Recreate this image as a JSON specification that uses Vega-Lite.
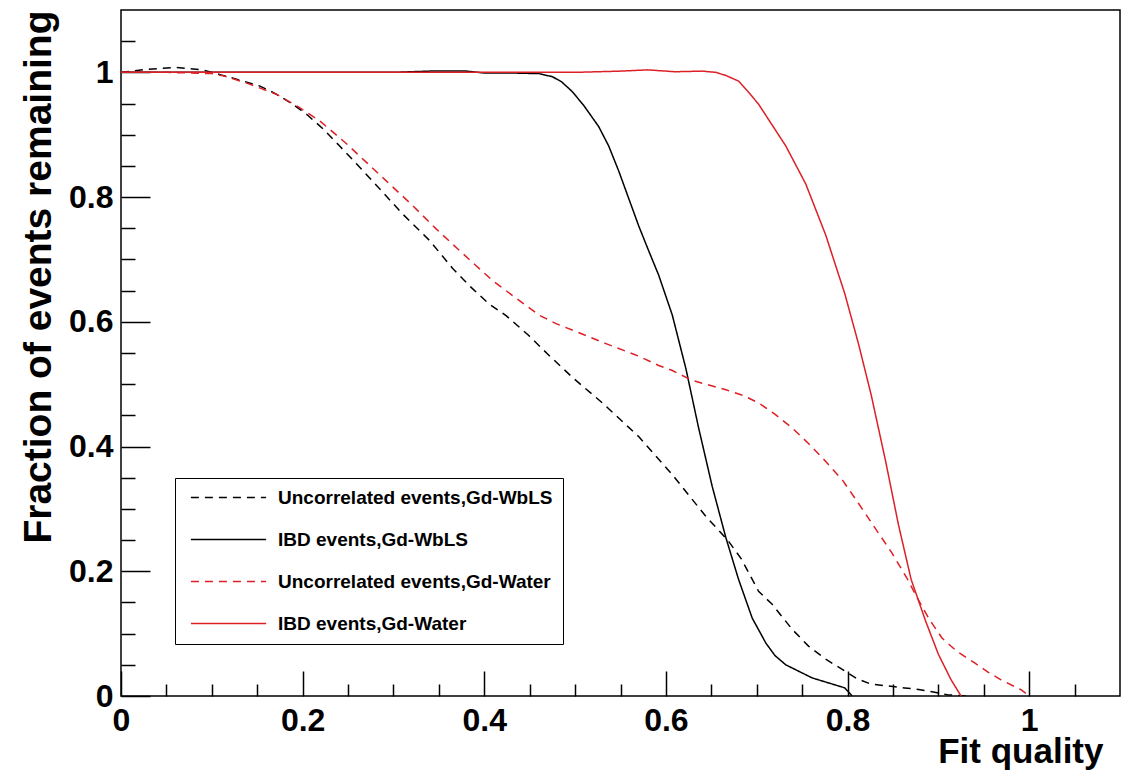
{
  "$schema": "https://vega.github.io/schema/vega-lite/v6.json",
  "autosize": {"type": "none"},
  "width": 999,
  "height": 686,
  "padding": {"left": 121, "top": 10, "right": 8, "bottom": 75},
  "background": "white",
  "config": {
    "view": {"stroke": "black", "strokeWidth": 1.5},
    "font": "Liberation Sans"
  },
  "data": {"values": [
    {"series": "Uncorrelated events,Gd-WbLS", "x": 0, "y": 1.0},
    {"series": "Uncorrelated events,Gd-WbLS", "x": 0.03, "y": 1.005},
    {"series": "Uncorrelated events,Gd-WbLS", "x": 0.06, "y": 1.008},
    {"series": "Uncorrelated events,Gd-WbLS", "x": 0.09, "y": 1.004},
    {"series": "Uncorrelated events,Gd-WbLS", "x": 0.11, "y": 0.996},
    {"series": "Uncorrelated events,Gd-WbLS", "x": 0.13, "y": 0.988},
    {"series": "Uncorrelated events,Gd-WbLS", "x": 0.153, "y": 0.978},
    {"series": "Uncorrelated events,Gd-WbLS", "x": 0.17, "y": 0.966},
    {"series": "Uncorrelated events,Gd-WbLS", "x": 0.188, "y": 0.95},
    {"series": "Uncorrelated events,Gd-WbLS", "x": 0.205, "y": 0.932},
    {"series": "Uncorrelated events,Gd-WbLS", "x": 0.222, "y": 0.91},
    {"series": "Uncorrelated events,Gd-WbLS", "x": 0.24, "y": 0.883},
    {"series": "Uncorrelated events,Gd-WbLS", "x": 0.259, "y": 0.854},
    {"series": "Uncorrelated events,Gd-WbLS", "x": 0.285, "y": 0.813},
    {"series": "Uncorrelated events,Gd-WbLS", "x": 0.31, "y": 0.773},
    {"series": "Uncorrelated events,Gd-WbLS", "x": 0.34, "y": 0.73},
    {"series": "Uncorrelated events,Gd-WbLS", "x": 0.365, "y": 0.686},
    {"series": "Uncorrelated events,Gd-WbLS", "x": 0.385, "y": 0.656},
    {"series": "Uncorrelated events,Gd-WbLS", "x": 0.405, "y": 0.629},
    {"series": "Uncorrelated events,Gd-WbLS", "x": 0.424, "y": 0.61},
    {"series": "Uncorrelated events,Gd-WbLS", "x": 0.449, "y": 0.578},
    {"series": "Uncorrelated events,Gd-WbLS", "x": 0.47, "y": 0.548},
    {"series": "Uncorrelated events,Gd-WbLS", "x": 0.497, "y": 0.511},
    {"series": "Uncorrelated events,Gd-WbLS", "x": 0.53, "y": 0.47},
    {"series": "Uncorrelated events,Gd-WbLS", "x": 0.57, "y": 0.416},
    {"series": "Uncorrelated events,Gd-WbLS", "x": 0.607, "y": 0.355},
    {"series": "Uncorrelated events,Gd-WbLS", "x": 0.644, "y": 0.288},
    {"series": "Uncorrelated events,Gd-WbLS", "x": 0.668, "y": 0.25},
    {"series": "Uncorrelated events,Gd-WbLS", "x": 0.683, "y": 0.22},
    {"series": "Uncorrelated events,Gd-WbLS", "x": 0.702, "y": 0.168},
    {"series": "Uncorrelated events,Gd-WbLS", "x": 0.717, "y": 0.147},
    {"series": "Uncorrelated events,Gd-WbLS", "x": 0.739, "y": 0.107},
    {"series": "Uncorrelated events,Gd-WbLS", "x": 0.757, "y": 0.08},
    {"series": "Uncorrelated events,Gd-WbLS", "x": 0.776, "y": 0.059},
    {"series": "Uncorrelated events,Gd-WbLS", "x": 0.797, "y": 0.04},
    {"series": "Uncorrelated events,Gd-WbLS", "x": 0.81, "y": 0.028},
    {"series": "Uncorrelated events,Gd-WbLS", "x": 0.826, "y": 0.019},
    {"series": "Uncorrelated events,Gd-WbLS", "x": 0.845, "y": 0.016},
    {"series": "Uncorrelated events,Gd-WbLS", "x": 0.863, "y": 0.013},
    {"series": "Uncorrelated events,Gd-WbLS", "x": 0.88, "y": 0.01},
    {"series": "Uncorrelated events,Gd-WbLS", "x": 0.896, "y": 0.006},
    {"series": "Uncorrelated events,Gd-WbLS", "x": 0.91, "y": 0.002},
    {"series": "Uncorrelated events,Gd-WbLS", "x": 0.93, "y": 0.0},

    {"series": "IBD events,Gd-WbLS", "x": 0, "y": 1.0},
    {"series": "IBD events,Gd-WbLS", "x": 0.1, "y": 1.0},
    {"series": "IBD events,Gd-WbLS", "x": 0.2, "y": 1.0},
    {"series": "IBD events,Gd-WbLS", "x": 0.3, "y": 1.0},
    {"series": "IBD events,Gd-WbLS", "x": 0.34, "y": 1.002},
    {"series": "IBD events,Gd-WbLS", "x": 0.38, "y": 1.002},
    {"series": "IBD events,Gd-WbLS", "x": 0.4, "y": 0.999},
    {"series": "IBD events,Gd-WbLS", "x": 0.43, "y": 0.999},
    {"series": "IBD events,Gd-WbLS", "x": 0.46, "y": 0.998},
    {"series": "IBD events,Gd-WbLS", "x": 0.475, "y": 0.993},
    {"series": "IBD events,Gd-WbLS", "x": 0.485, "y": 0.985},
    {"series": "IBD events,Gd-WbLS", "x": 0.497, "y": 0.969},
    {"series": "IBD events,Gd-WbLS", "x": 0.51, "y": 0.946},
    {"series": "IBD events,Gd-WbLS", "x": 0.526, "y": 0.913},
    {"series": "IBD events,Gd-WbLS", "x": 0.537, "y": 0.882},
    {"series": "IBD events,Gd-WbLS", "x": 0.548, "y": 0.842},
    {"series": "IBD events,Gd-WbLS", "x": 0.559, "y": 0.798},
    {"series": "IBD events,Gd-WbLS", "x": 0.57, "y": 0.754},
    {"series": "IBD events,Gd-WbLS", "x": 0.581, "y": 0.714},
    {"series": "IBD events,Gd-WbLS", "x": 0.592, "y": 0.675},
    {"series": "IBD events,Gd-WbLS", "x": 0.607, "y": 0.611},
    {"series": "IBD events,Gd-WbLS", "x": 0.622, "y": 0.525},
    {"series": "IBD events,Gd-WbLS", "x": 0.636, "y": 0.43},
    {"series": "IBD events,Gd-WbLS", "x": 0.651, "y": 0.336},
    {"series": "IBD events,Gd-WbLS", "x": 0.666, "y": 0.254},
    {"series": "IBD events,Gd-WbLS", "x": 0.68, "y": 0.187},
    {"series": "IBD events,Gd-WbLS", "x": 0.695, "y": 0.125},
    {"series": "IBD events,Gd-WbLS", "x": 0.71, "y": 0.085},
    {"series": "IBD events,Gd-WbLS", "x": 0.72, "y": 0.065},
    {"series": "IBD events,Gd-WbLS", "x": 0.732, "y": 0.05},
    {"series": "IBD events,Gd-WbLS", "x": 0.761, "y": 0.029},
    {"series": "IBD events,Gd-WbLS", "x": 0.797, "y": 0.013},
    {"series": "IBD events,Gd-WbLS", "x": 0.805, "y": 0.0},

    {"series": "Uncorrelated events,Gd-Water", "x": 0, "y": 1.0},
    {"series": "Uncorrelated events,Gd-Water", "x": 0.05, "y": 1.0},
    {"series": "Uncorrelated events,Gd-Water", "x": 0.1, "y": 0.998},
    {"series": "Uncorrelated events,Gd-Water", "x": 0.114, "y": 0.994},
    {"series": "Uncorrelated events,Gd-Water", "x": 0.14, "y": 0.982},
    {"series": "Uncorrelated events,Gd-Water", "x": 0.171, "y": 0.965},
    {"series": "Uncorrelated events,Gd-Water", "x": 0.195, "y": 0.945},
    {"series": "Uncorrelated events,Gd-Water", "x": 0.219, "y": 0.922},
    {"series": "Uncorrelated events,Gd-Water", "x": 0.248, "y": 0.886},
    {"series": "Uncorrelated events,Gd-Water", "x": 0.27, "y": 0.856},
    {"series": "Uncorrelated events,Gd-Water", "x": 0.292, "y": 0.826},
    {"series": "Uncorrelated events,Gd-Water", "x": 0.32, "y": 0.788},
    {"series": "Uncorrelated events,Gd-Water", "x": 0.347, "y": 0.749},
    {"series": "Uncorrelated events,Gd-Water", "x": 0.37, "y": 0.718},
    {"series": "Uncorrelated events,Gd-Water", "x": 0.391, "y": 0.69},
    {"series": "Uncorrelated events,Gd-Water", "x": 0.41, "y": 0.665},
    {"series": "Uncorrelated events,Gd-Water", "x": 0.435, "y": 0.638},
    {"series": "Uncorrelated events,Gd-Water", "x": 0.46, "y": 0.611},
    {"series": "Uncorrelated events,Gd-Water", "x": 0.479, "y": 0.597},
    {"series": "Uncorrelated events,Gd-Water", "x": 0.5, "y": 0.585},
    {"series": "Uncorrelated events,Gd-Water", "x": 0.534, "y": 0.565},
    {"series": "Uncorrelated events,Gd-Water", "x": 0.57, "y": 0.545},
    {"series": "Uncorrelated events,Gd-Water", "x": 0.592, "y": 0.53},
    {"series": "Uncorrelated events,Gd-Water", "x": 0.607, "y": 0.522},
    {"series": "Uncorrelated events,Gd-Water", "x": 0.629, "y": 0.506},
    {"series": "Uncorrelated events,Gd-Water", "x": 0.666, "y": 0.491},
    {"series": "Uncorrelated events,Gd-Water", "x": 0.685, "y": 0.482},
    {"series": "Uncorrelated events,Gd-Water", "x": 0.702, "y": 0.47},
    {"series": "Uncorrelated events,Gd-Water", "x": 0.72, "y": 0.452},
    {"series": "Uncorrelated events,Gd-Water", "x": 0.739, "y": 0.43},
    {"series": "Uncorrelated events,Gd-Water", "x": 0.757, "y": 0.405},
    {"series": "Uncorrelated events,Gd-Water", "x": 0.776, "y": 0.376},
    {"series": "Uncorrelated events,Gd-Water", "x": 0.795, "y": 0.345},
    {"series": "Uncorrelated events,Gd-Water", "x": 0.812, "y": 0.309},
    {"series": "Uncorrelated events,Gd-Water", "x": 0.83, "y": 0.27},
    {"series": "Uncorrelated events,Gd-Water", "x": 0.849, "y": 0.229},
    {"series": "Uncorrelated events,Gd-Water", "x": 0.865, "y": 0.19},
    {"series": "Uncorrelated events,Gd-Water", "x": 0.878, "y": 0.154},
    {"series": "Uncorrelated events,Gd-Water", "x": 0.89, "y": 0.123},
    {"series": "Uncorrelated events,Gd-Water", "x": 0.904, "y": 0.093},
    {"series": "Uncorrelated events,Gd-Water", "x": 0.92, "y": 0.072},
    {"series": "Uncorrelated events,Gd-Water", "x": 0.94, "y": 0.053},
    {"series": "Uncorrelated events,Gd-Water", "x": 0.955, "y": 0.038},
    {"series": "Uncorrelated events,Gd-Water", "x": 0.969, "y": 0.026},
    {"series": "Uncorrelated events,Gd-Water", "x": 0.991, "y": 0.01},
    {"series": "Uncorrelated events,Gd-Water", "x": 1.0, "y": 0.0},

    {"series": "IBD events,Gd-Water", "x": 0, "y": 1.0},
    {"series": "IBD events,Gd-Water", "x": 0.2, "y": 1.0},
    {"series": "IBD events,Gd-Water", "x": 0.4, "y": 1.0},
    {"series": "IBD events,Gd-Water", "x": 0.5, "y": 1.0},
    {"series": "IBD events,Gd-Water", "x": 0.55, "y": 1.002},
    {"series": "IBD events,Gd-Water", "x": 0.58, "y": 1.004},
    {"series": "IBD events,Gd-Water", "x": 0.61, "y": 1.001},
    {"series": "IBD events,Gd-Water", "x": 0.64, "y": 1.002},
    {"series": "IBD events,Gd-Water", "x": 0.655, "y": 1.0},
    {"series": "IBD events,Gd-Water", "x": 0.666, "y": 0.995},
    {"series": "IBD events,Gd-Water", "x": 0.68, "y": 0.986},
    {"series": "IBD events,Gd-Water", "x": 0.69, "y": 0.97},
    {"series": "IBD events,Gd-Water", "x": 0.702, "y": 0.949},
    {"series": "IBD events,Gd-Water", "x": 0.715, "y": 0.92},
    {"series": "IBD events,Gd-Water", "x": 0.732, "y": 0.882},
    {"series": "IBD events,Gd-Water", "x": 0.754, "y": 0.821},
    {"series": "IBD events,Gd-Water", "x": 0.776, "y": 0.739},
    {"series": "IBD events,Gd-Water", "x": 0.797, "y": 0.645},
    {"series": "IBD events,Gd-Water", "x": 0.812, "y": 0.565},
    {"series": "IBD events,Gd-Water", "x": 0.826, "y": 0.483},
    {"series": "IBD events,Gd-Water", "x": 0.842, "y": 0.376},
    {"series": "IBD events,Gd-Water", "x": 0.856, "y": 0.275},
    {"series": "IBD events,Gd-Water", "x": 0.87, "y": 0.187},
    {"series": "IBD events,Gd-Water", "x": 0.886, "y": 0.12},
    {"series": "IBD events,Gd-Water", "x": 0.9, "y": 0.067},
    {"series": "IBD events,Gd-Water", "x": 0.914, "y": 0.026},
    {"series": "IBD events,Gd-Water", "x": 0.925, "y": 0.0}
  ]},
  "mark": {"type": "line", "strokeWidth": 1.5, "clip": true},
  "encoding": {
    "x": {
      "field": "x", "type": "quantitative",
      "scale": {"domain": [0, 1.1], "nice": false, "zero": false},
      "axis": {
        "title": "Fit quality",
        "titleFont": "Liberation Sans",
        "titleFontSize": 35,
        "titleFontWeight": "bold",
        "titleColor": "black",
        "titleAlign": "right",
        "titleBaseline": "alphabetic",
        "titleX": 982,
        "titleY": 66,
        "values": [0, 0.05, 0.1, 0.15, 0.2, 0.25, 0.3, 0.35, 0.4, 0.45, 0.5, 0.55, 0.6, 0.65, 0.7, 0.75, 0.8, 0.85, 0.9, 0.95, 1.0, 1.05],
        "format": "~g",
        "labelExpr": "abs(datum.value*5 - round(datum.value*5)) < 0.000001 ? datum.label : ''",
        "labelFont": "Liberation Sans",
        "labelFontSize": 32,
        "labelFontWeight": "bold",
        "labelColor": "black",
        "labelPadding": 34,
        "labelFlush": false,
        "labelOverlap": false,
        "grid": false,
        "domain": false,
        "tickColor": "black",
        "tickWidth": 1.5,
        "tickSize": {"condition": {"test": "abs(datum.value*5 - round(datum.value*5)) < 0.000001", "value": -25}, "value": -12}
      }
    },
    "y": {
      "field": "y", "type": "quantitative",
      "scale": {"domain": [0, 1.1], "nice": false, "zero": false},
      "axis": {
        "title": "Fraction of events remaining",
        "titleAnchor": "end",
        "titleFont": "Liberation Sans",
        "titleFontSize": 39,
        "titleFontWeight": "bold",
        "titleColor": "black",
        "titlePadding": 10,
        "values": [0, 0.05, 0.1, 0.15, 0.2, 0.25, 0.3, 0.35, 0.4, 0.45, 0.5, 0.55, 0.6, 0.65, 0.7, 0.75, 0.8, 0.85, 0.9, 0.95, 1.0, 1.05],
        "format": "~g",
        "labelExpr": "abs(datum.value*5 - round(datum.value*5)) < 0.000001 ? datum.label : ''",
        "labelFont": "Liberation Sans",
        "labelFontSize": 32,
        "labelFontWeight": "bold",
        "labelColor": "black",
        "labelPadding": 37,
        "labelFlush": false,
        "labelOverlap": false,
        "grid": false,
        "domain": false,
        "tickColor": "black",
        "tickWidth": 1.5,
        "tickSize": {"condition": {"test": "abs(datum.value*5 - round(datum.value*5)) < 0.000001", "value": -29}, "value": -14}
      }
    },
    "color": {
      "field": "series", "type": "nominal",
      "scale": {
        "domain": ["Uncorrelated events,Gd-WbLS", "IBD events,Gd-WbLS", "Uncorrelated events,Gd-Water", "IBD events,Gd-Water"],
        "range": ["#000000", "#000000", "#dd1f26", "#dd1f26"]
      },
      "legend": {
        "title": null,
        "orient": "none",
        "legendX": 54,
        "legendY": 468,
        "fillColor": "white",
        "strokeColor": "black",
        "padding": 10,
        "symbolType": "M-9.4,0H9.4",
        "symbolSize": 64,
        "symbolStrokeWidth": 1.5,
        "symbolOffset": 34,
        "labelFont": "Liberation Sans",
        "labelFontSize": 19,
        "labelFontWeight": "bold",
        "labelColor": "black",
        "labelLimit": 500,
        "labelOffset": 40,
        "rowPadding": 22
      }
    },
    "strokeDash": {
      "field": "series", "type": "nominal",
      "scale": {
        "domain": ["Uncorrelated events,Gd-WbLS", "IBD events,Gd-WbLS", "Uncorrelated events,Gd-Water", "IBD events,Gd-Water"],
        "range": [[8, 6], [1, 0], [8, 6], [1, 0]]
      },
      "legend": null
    }
  }
}
